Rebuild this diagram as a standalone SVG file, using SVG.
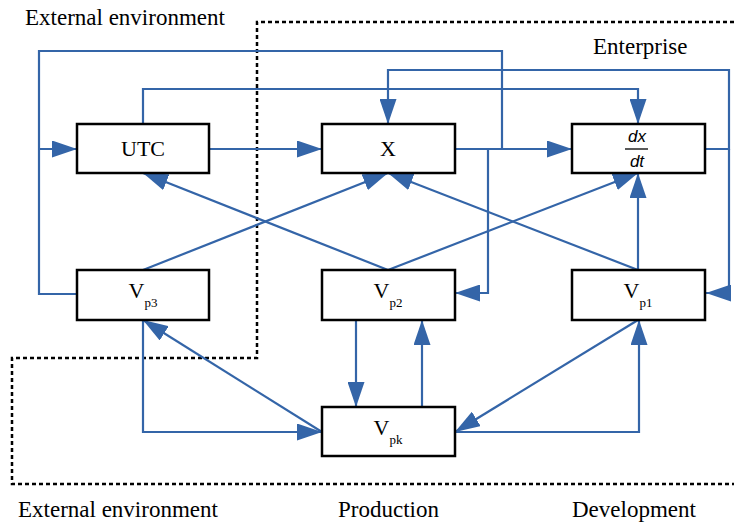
<svg xmlns="http://www.w3.org/2000/svg" width="734" height="523" viewBox="0 0 734 523">
<style>
.box{fill:#fff;stroke:#000;stroke-width:2.5}
.lbl{font-size:22px;fill:#000;text-anchor:middle}
.sub{font-size:13px}
.region{font-size:23px;fill:#000}
.frac{font-style:italic;font-size:17px;fill:#000;text-anchor:middle}
.c{fill:none;stroke:#3465A8;stroke-width:2.2}
.ar{marker-end:url(#ah)}
.dash{fill:none;stroke:#000;stroke-width:2.5;stroke-dasharray:4 3}
</style>
<defs>
<marker id="ah" markerUnits="userSpaceOnUse" markerWidth="25" markerHeight="17" refX="25" refY="8.5" orient="auto" viewBox="0 0 25 17">
<path d="M0,0 L25,8.5 L0,17 z" fill="#3465A8"/>
</marker>
</defs>
<rect width="734" height="523" fill="#fff"/>
<g id="boundary">
<path class="dash" d="M734,22 H257 V358 H12 V484 H734"/>
</g>
<g id="region-labels" font-family="'Liberation Serif', 'Times New Roman', serif">
<text class="region" x="25" y="25">External environment</text>
<text class="region" x="593" y="54">Enterprise</text>
<text class="region" x="18" y="517">External environment</text>
<text class="region" x="338" y="517">Production</text>
<text class="region" x="572" y="517">Development</text>
</g>
<g id="connectors">
<path class="c" d="M77,294 H39 V51 H502 V149"/>
<path class="c ar" d="M39,149 H77"/>
<path class="c ar" d="M143,124 V89 H638 V124"/>
<path class="c ar" d="M706,149 H729 V70 H388 V124"/>
<path class="c ar" d="M729,149 V293 H706"/>
<path class="c ar" d="M209,149 H322"/>
<path class="c ar" d="M455,149 H572"/>
<path class="c ar" d="M488,149 V293 H455"/>
<path class="c ar" d="M388,270 L143,173"/>
<path class="c ar" d="M143,270 L388,173"/>
<path class="c ar" d="M388,270 L638,173"/>
<path class="c ar" d="M638,270 L388,173"/>
<path class="c ar" d="M638,270 V173"/>
<path class="c ar" d="M356,320 V407"/>
<path class="c ar" d="M422,407 V320"/>
<path class="c ar" d="M143,320 V432 H322"/>
<path class="c ar" d="M322,432 L143,320"/>
<path class="c ar" d="M455,432 H639 V320"/>
<path class="c ar" d="M638,320 L455,432"/>
</g>
<g id="UTC" font-family="'Liberation Serif', 'Times New Roman', serif">
<rect class="box" x="77" y="124" width="132" height="49"/>
<text class="lbl" x="143" y="156">UTC</text>
</g>
<g id="X" font-family="'Liberation Serif', 'Times New Roman', serif">
<rect class="box" x="322" y="124" width="133" height="49"/>
<text class="lbl" x="388" y="156">X</text>
</g>
<g id="dxdt" font-family="'Liberation Sans', Arial, sans-serif">
<rect class="box" x="572" y="124" width="133" height="49"/>
<text class="frac" x="637" y="142">dx</text>
<line x1="625" y1="149" x2="648" y2="149" stroke="#000" stroke-width="1.3"/>
<text class="frac" x="637" y="167">dt</text>
</g>
<g id="Vp3" font-family="'Liberation Serif', 'Times New Roman', serif">
<rect class="box" x="77" y="270" width="132" height="50"/>
<text class="lbl" x="143" y="298" font-size="20">V<tspan class="sub" dy="9">p3</tspan></text>
</g>
<g id="Vp2" font-family="'Liberation Serif', 'Times New Roman', serif">
<rect class="box" x="322" y="270" width="133" height="50"/>
<text class="lbl" x="388" y="298" font-size="20">V<tspan class="sub" dy="9">p2</tspan></text>
</g>
<g id="Vp1" font-family="'Liberation Serif', 'Times New Roman', serif">
<rect class="box" x="572" y="270" width="133" height="50"/>
<text class="lbl" x="638" y="298" font-size="20">V<tspan class="sub" dy="9">p1</tspan></text>
</g>
<g id="Vpk" font-family="'Liberation Serif', 'Times New Roman', serif">
<rect class="box" x="322" y="407" width="133" height="49"/>
<text class="lbl" x="388" y="435" font-size="20">V<tspan class="sub" dy="9">pk</tspan></text>
</g>
</svg>
